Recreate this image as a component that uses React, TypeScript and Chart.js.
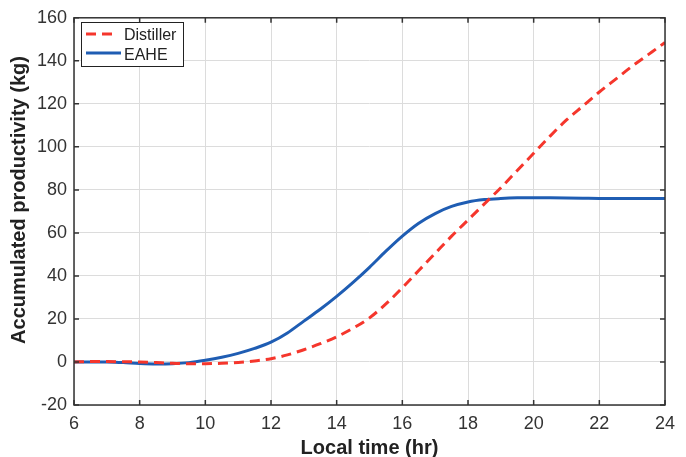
import React, { useEffect, useRef } from "react";
import { Chart, registerables } from "chart.js";

Chart.register(...registerables);

const hours = [6, 6.5, 7, 7.5, 8, 8.5, 9, 9.5, 10, 10.5, 11, 11.5, 12, 12.5, 13, 13.5, 14, 14.5, 15, 15.5, 16, 16.5, 17, 17.5, 18, 18.5, 19, 19.5, 20, 20.5, 21, 21.5, 22, 22.5, 23, 23.5, 24];
const distiller = [0, 0.2, 0.2, 0.1, 0, -0.3, -0.6, -0.8, -0.8, -0.6, -0.2, 0.5, 1.5, 3.3, 5.7, 8.5, 11.7, 15.7, 20.5, 27, 34.5, 42.5, 50.5, 58.5, 66, 73.5, 81, 89, 97, 105, 112.5, 119, 125.5, 131.5, 137.5, 143, 148.5];
const eahe = [0, 0, 0, -0.3, -0.7, -0.9, -0.8, -0.3, 0.8, 2.2, 4, 6.3, 9.2, 13.5, 19, 24.5, 30.5, 37, 44, 51.5, 58.5, 64.5, 69, 72.3, 74.4, 75.5, 76, 76.3, 76.4, 76.3, 76.2, 76.1, 76, 76, 76, 76, 76];
const seriesNames = ["Distiller", "EAHE"];
const xTitle = "Local time (hr)";
const yTitle = "Accumulated productivity (kg)";

const RED = "#f5362c";
const BLUE = "#1f5db3";
const AXIS = "#333333";
const FONT = "'Liberation Sans', Arial, sans-serif";

const frame = {
  id: "frame",
  afterDatasetsDraw(chart: any) {
    const { ctx, chartArea: a, scales } = chart;
    ctx.save();
    ctx.strokeStyle = AXIS;
    ctx.lineWidth = 1.5;
    ctx.strokeRect(a.left, a.top, a.right - a.left, a.bottom - a.top);
    const L = 5;
    ctx.beginPath();
    scales.x.ticks.forEach((t: any) => {
      const px = scales.x.getPixelForValue(t.value);
      ctx.moveTo(px, a.bottom);
      ctx.lineTo(px, a.bottom - L);
      ctx.moveTo(px, a.top);
      ctx.lineTo(px, a.top + L);
    });
    scales.y.ticks.forEach((t: any) => {
      const py = scales.y.getPixelForValue(t.value);
      ctx.moveTo(a.left, py);
      ctx.lineTo(a.left + L, py);
      ctx.moveTo(a.right, py);
      ctx.lineTo(a.right - L, py);
    });
    ctx.stroke();

    // y-axis title
    ctx.save();
    ctx.translate(19, 200);
    ctx.rotate(-Math.PI / 2);
    ctx.fillStyle = "#222";
    ctx.font = `bold 20px ${FONT}`;
    ctx.textAlign = "center";
    ctx.textBaseline = "middle";
    ctx.fillText(yTitle, 0, 0);
    ctx.restore();

    // legend
    const bx = 81, by = 22, bw = 102, bh = 44;
    ctx.fillStyle = "#ffffff";
    ctx.fillRect(bx, by, bw, bh);
    ctx.strokeStyle = "#222";
    ctx.lineWidth = 1;
    ctx.strokeRect(bx + 0.5, by + 0.5, bw, bh);
    ctx.lineWidth = 3;
    ctx.strokeStyle = RED;
    ctx.setLineDash([10, 6]);
    ctx.beginPath();
    ctx.moveTo(86, 34);
    ctx.lineTo(118, 34);
    ctx.stroke();
    ctx.setLineDash([]);
    ctx.strokeStyle = BLUE;
    ctx.beginPath();
    ctx.moveTo(86, 53);
    ctx.lineTo(121, 53);
    ctx.stroke();
    ctx.fillStyle = "#222";
    ctx.font = `16px ${FONT}`;
    ctx.textBaseline = "middle";
    ctx.textAlign = "left";
    ctx.fillText(seriesNames[0], 124, 36);
    ctx.fillText(seriesNames[1], 124, 56);
    ctx.restore();
  },
};

export default function App() {
  const ref = useRef<HTMLCanvasElement>(null);
  useEffect(() => {
    if (!ref.current) return;
    const chart = new Chart(ref.current, {
      type: "line",
      data: {
        labels: hours,
        datasets: [
          {
            label: seriesNames[0],
            data: hours.map((h, i) => ({ x: h, y: distiller[i] })),
            borderColor: RED,
            borderWidth: 3,
            borderDash: [10, 6],
            pointRadius: 0,
            cubicInterpolationMode: "monotone",
          },
          {
            label: seriesNames[1],
            data: hours.map((h, i) => ({ x: h, y: eahe[i] })),
            borderColor: BLUE,
            borderWidth: 3,
            pointRadius: 0,
            cubicInterpolationMode: "monotone",
          },
        ],
      },
      options: {
        animation: false,
        responsive: false,
        maintainAspectRatio: false,
        layout: { padding: { top: 17, right: 21, left: 0, bottom: 0 } },
        plugins: { legend: { display: false }, tooltip: { enabled: false } },
        scales: {
          x: {
            type: "linear",
            min: 6,
            max: 24,
            afterFit: (s: any) => { s.height = 52; },
            ticks: { stepSize: 2, color: AXIS, font: { size: 18, family: FONT }, padding: 8 },
            grid: { color: "#dcdcdc", drawTicks: false },
            border: { display: false },
            title: { display: true, text: xTitle, color: "#222", font: { size: 20, weight: "bold", family: FONT }, padding: { top: 0, bottom: -3 } },
          },
          y: {
            min: -20,
            max: 160,
            afterFit: (s: any) => { s.width = 74; },
            ticks: { stepSize: 20, color: AXIS, font: { size: 18, family: FONT }, padding: 7 },
            grid: { color: "#dcdcdc", drawTicks: false },
            border: { display: false },
            title: { display: false, text: yTitle },
          },
        },
      },
      plugins: [frame],
    } as any);
    return () => chart.destroy();
  }, []);
  return (
    <div style={{ position: "absolute", left: 0, top: 0, width: 686, height: 457, background: "#fff" }}>
      <canvas ref={ref} width={686} height={457} style={{ width: 686, height: 457 }} />
    </div>
  );
}
